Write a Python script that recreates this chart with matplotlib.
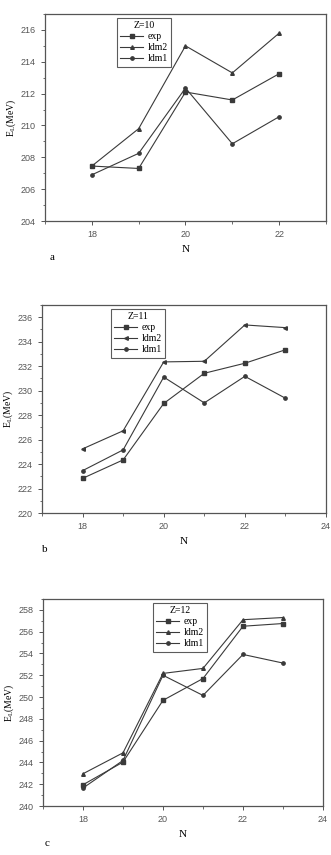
import matplotlib
matplotlib.use("Agg")
import matplotlib.pyplot as plt
from matplotlib.ticker import MultipleLocator

# ---- data ----
N_a = [18, 19, 20, 21, 22]
exp_a = [207.45, 207.3, 212.1, 211.6, 213.25]
ldm2_a = [207.45, 209.8, 215.0, 213.3, 215.8]
ldm1_a = [206.9, 208.25, 212.35, 208.85, 210.55]

N_b = [18, 19, 20, 21, 22, 23]
exp_b = [222.83, 224.34, 228.95, 231.42, 232.24, 233.34]
ldm2_b = [225.24, 226.72, 232.35, 232.4, 235.37, 235.15]
ldm1_b = [223.46, 225.16, 231.11, 229.0, 231.17, 229.38]

N_c = [18, 19, 20, 21, 22, 23]
exp_c = [241.95, 244.03, 249.7, 251.7, 256.5, 256.75]
ldm2_c = [242.96, 244.88, 252.17, 252.63, 257.1, 257.3]
ldm1_c = [241.65, 244.18, 252.0, 250.15, 253.91, 253.12]

W, H = 331, 855
fig = plt.figure(figsize=(W / 100, H / 100), dpi=100)
fig.patch.set_facecolor("white")

SERIF = ["Liberation Serif", "DejaVu Serif"]
SANS = ["Liberation Sans", "DejaVu Sans"]
LC = "#3a3a3a"


def px_axes(left, right, top, bottom):
    return fig.add_axes([left / W, (H - bottom) / H, (right - left) / W, (bottom - top) / H])


def panel(ax, N, exp, ldm2, ldm1, tri, title, xlim, ylim, leg_xy):
    ax.plot(N, exp, color=LC, lw=0.8, marker="s", ms=2.4, label="exp")
    ax.plot(N, ldm2, color=LC, lw=0.8, marker=tri, ms=2.6, label="ldm2")
    ax.plot(N, ldm1, color=LC, lw=0.8, marker="o", ms=2.4, label="ldm1")
    ax.set_xlim(*xlim)
    ax.set_ylim(*ylim)
    ax.xaxis.set_major_locator(MultipleLocator(2))
    ax.xaxis.set_minor_locator(MultipleLocator(1))
    ax.yaxis.set_major_locator(MultipleLocator(2))
    ax.yaxis.set_minor_locator(MultipleLocator(1))
    ax.tick_params(which="major", direction="out", length=3, width=0.7, colors="#555555",
                   labelsize=6.5, labelcolor="#555555")
    ax.tick_params(which="minor", direction="out", length=1.8, width=0.6, colors="#555555")
    for lab in ax.get_xticklabels() + ax.get_yticklabels():
        lab.set_family(SANS)
    for s in ax.spines.values():
        s.set_color("#555555")
        s.set_linewidth(0.9)
    ax.set_xlabel("N", fontsize=8, family=SERIF, labelpad=4)
    ax.set_ylabel(r"E$_\mathregular{L}$(MeV)", fontsize=7, family=SERIF, labelpad=2)
    leg = ax.legend(title=title, loc="upper left", bbox_to_anchor=leg_xy,
                    bbox_transform=fig.transFigure, prop={"family": SERIF, "size": 7},
                    title_fontproperties={"family": SERIF, "size": 7},
                    frameon=True, fancybox=False, handlelength=2.3, handletextpad=0.5,
                    borderpad=0.35, labelspacing=0.2, borderaxespad=0)
    leg.get_frame().set_edgecolor("#333333")
    leg.get_frame().set_linewidth(0.8)


ax_a = px_axes(45, 326, 14, 221)
panel(ax_a, N_a, exp_a, ldm2_a, ldm1_a, "^", "Z=10", (17, 23), (204, 217),
      (117 / W, 1 - 18 / H))
ax_b = px_axes(42, 326, 305, 513)
panel(ax_b, N_b, exp_b, ldm2_b, ldm1_b, "<", "Z=11", (17, 24), (220, 237),
      (111 / W, 1 - 309 / H))
ax_c = px_axes(43, 323, 599, 806)
panel(ax_c, N_c, exp_c, ldm2_c, ldm1_c, "^", "Z=12", (17, 24), (240, 259),
      (153 / W, 1 - 603 / H))

for txt, x, y in [("a", 52, 257), ("b", 45, 550), ("c", 47, 843)]:
    fig.text(x / W, 1 - y / H, txt, fontsize=8, family=SERIF, ha="center", va="center")

fig.savefig("out.png", dpi=100, facecolor="white")
